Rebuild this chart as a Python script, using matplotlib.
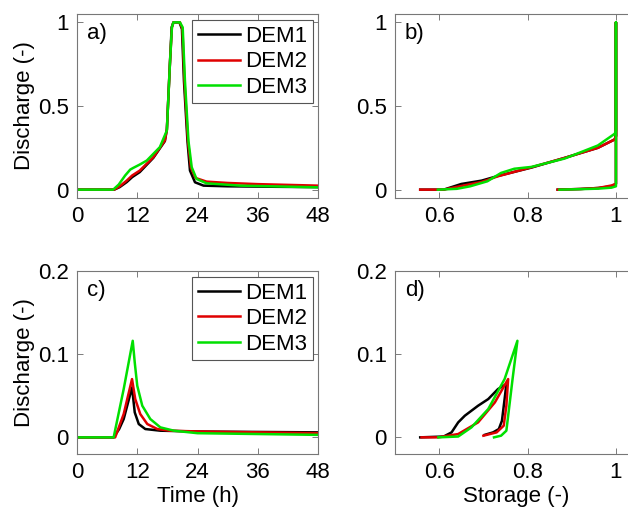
import numpy as np
import matplotlib
matplotlib.use('Agg')
import matplotlib.pyplot as plt

plt.rcParams['font.family'] = 'Liberation Sans'

# -----------------------------------------------------------------------------
# a) hydrographs, event 1 (time in h, normalised discharge)

t1_a = [0, 7.4, 8.5, 9.9, 11.0, 12.5, 15.2, 17.5, 17.9, 18.5, 18.85, 19.2, 20.4,
        20.9, 21.3, 22.0, 22.5, 23.5, 25.2, 30, 40, 48]
q1_a = [0, 0, 0.015, 0.045, 0.075, 0.105, 0.19, 0.29, 0.36, 0.75, 0.97, 1.0, 1.0,
        0.96, 0.65, 0.29, 0.114, 0.044, 0.024, 0.02, 0.017, 0.015]

t2_a = [0, 7.4, 8.5, 9.9, 11.0, 12.5, 15.2, 17.5, 17.9, 18.5, 18.9, 19.2, 20.5,
        21.0, 21.4, 22.1, 22.7, 23.6, 25.8, 30, 36, 48]
q2_a = [0, 0, 0.02, 0.054, 0.085, 0.114, 0.194, 0.294, 0.36, 0.75, 0.97, 1.0, 1.0,
        0.96, 0.65, 0.29, 0.13, 0.07, 0.048, 0.04, 0.033, 0.024]

t3_a = [0, 7.2, 8.3, 9.6, 10.6, 11.2, 12.5, 13.9, 16.5, 17.9, 18.5, 18.9, 19.2,
        20.5, 21.05, 21.5, 22.2, 22.85, 23.8, 25.8, 32.5, 48]
q3_a = [0, 0, 0.03, 0.085, 0.12, 0.13, 0.15, 0.174, 0.254, 0.354, 0.75, 0.97, 1.0,
        1.0, 0.97, 0.65, 0.29, 0.134, 0.064, 0.038, 0.024, 0.014]

# b) discharge vs storage, event 1
s1_b = [0.557, 0.61, 0.65, 0.696, 0.733, 0.809, 0.884, 0.959, 0.997, 1.0, 1.0,
        1.0, 0.99, 0.96, 0.92, 0.868]
q1_b = [0, 0, 0.034, 0.054, 0.082, 0.132, 0.19, 0.25, 0.3, 0.32, 1.0,
        0.035, 0.02, 0.01, 0.004, 0]

s2_b = [0.557, 0.61, 0.65, 0.696, 0.733, 0.809, 0.884, 0.959, 0.997, 1.0, 1.0,
        1.0, 0.99, 0.96, 0.92, 0.868]
q2_b = [0, 0, 0.022, 0.046, 0.08, 0.134, 0.19, 0.25, 0.3, 0.32, 1.0,
        0.035, 0.025, 0.01, 0.004, 0]

s3_b = [0.597, 0.64, 0.67, 0.709, 0.74, 0.77, 0.809, 0.884, 0.959, 0.997, 1.0,
        1.0, 1.0, 0.99, 0.96, 0.92, 0.872]
q3_b = [0, 0.005, 0.02, 0.05, 0.1, 0.125, 0.136, 0.186, 0.264, 0.334, 0.35,
        1.0, 0.02, 0.012, 0.006, 0.003, 0]

# c) hydrographs, event 2
t1_c = [0, 7.3, 8.4, 9.3, 10.96, 11.5, 12.3, 13.6, 16.6, 24, 48]
q1_c = [0, 0, 0.01, 0.022, 0.06, 0.03, 0.016, 0.01, 0.008, 0.007, 0.006]

t2_c = [0, 7.6, 9.3, 10.96, 11.6, 12.6, 14.0, 16.0, 18.5, 24.6, 48]
q2_c = [0, 0, 0.028, 0.07, 0.046, 0.028, 0.016, 0.01, 0.008, 0.007, 0.005]

t3_c = [0, 7.3, 9.3, 11.1, 11.5, 12.0, 13.0, 14.6, 16.6, 19.3, 24, 48]
q3_c = [0, 0, 0.058, 0.116, 0.09, 0.062, 0.038, 0.022, 0.012, 0.008, 0.005, 0.003]

# d) discharge vs storage, event 2
s1_d = [0.557, 0.61, 0.628, 0.643, 0.658, 0.688, 0.711, 0.733, 0.752, 0.748,
        0.742, 0.735, 0.722, 0.703]
q1_d = [0, 0.001, 0.006, 0.018, 0.026, 0.038, 0.046, 0.058, 0.064, 0.046,
        0.02, 0.01, 0.006, 0.003]

s2_d = [0.56, 0.598, 0.643, 0.688, 0.726, 0.756, 0.752, 0.746, 0.73, 0.70]
q2_d = [0, 0, 0.004, 0.018, 0.042, 0.07, 0.038, 0.014, 0.006, 0.002]

s3_d = [0.598, 0.643, 0.673, 0.711, 0.748, 0.777, 0.766, 0.757, 0.752, 0.74, 0.724]
q3_d = [0, 0.001, 0.012, 0.034, 0.07, 0.116, 0.07, 0.03, 0.008, 0.002, 0]

labels = ['DEM1', 'DEM2', 'DEM3']
colors = ['black', '#e00000', '#00e000']

# -----------------------------------------------------------------------------


def style_axes(ax, letter):
    """ MATLAB-like box with inward ticks on all sides """
    ax.tick_params(direction='in', top=True, right=True, length=4,
                   width=0.6, color='#666666', labelsize=16, pad=6)
    for sp in ax.spines.values():
        sp.set_color('#777777')
        sp.set_linewidth(0.8)
    ax.text(0.04, 0.95, letter, transform=ax.transAxes, va='top',
            ha='left', fontsize=16)


def add_legend(ax):
    leg = ax.legend(loc='upper right', bbox_to_anchor=(0.98, 0.965),
                    borderaxespad=0, fontsize=16, fancybox=False,
                    framealpha=1, edgecolor='#555555', handlelength=1.9,
                    handletextpad=0.25, labelspacing=0.2, borderpad=0.25)
    leg.get_frame().set_linewidth(0.8)


fig = plt.figure(figsize=(6.28, 5.13), dpi=100)

ax_a = fig.add_axes([0.1226, 0.614, 0.3838, 0.3587])
ax_b = fig.add_axes([0.629, 0.614, 0.387, 0.3587])
ax_c = fig.add_axes([0.1226, 0.115, 0.3838, 0.357])
ax_d = fig.add_axes([0.629, 0.115, 0.387, 0.357])

lw = 1.8
for t, q, lab, c in zip([t1_a, t2_a, t3_a], [q1_a, q2_a, q3_a], labels, colors):
    ax_a.plot(t, q, color=c, lw=lw, label=lab)
for s, q, c in zip([s1_b, s2_b, s3_b], [q1_b, q2_b, q3_b], colors):
    ax_b.plot(s, q, color=c, lw=lw)
for t, q, lab, c in zip([t1_c, t2_c, t3_c], [q1_c, q2_c, q3_c], labels, colors):
    ax_c.plot(t, q, color=c, lw=lw, label=lab)
for s, q, c in zip([s1_d, s2_d, s3_d], [q1_d, q2_d, q3_d], colors):
    ax_d.plot(s, q, color=c, lw=lw)

for ax in [ax_a, ax_c]:
    ax.set_xlim(0, 48)
    ax.set_xticks([0, 12, 24, 36, 48])
    ax.set_ylabel('Discharge (-)', fontsize=16, labelpad=2)
for ax in [ax_b, ax_d]:
    ax.set_xlim(0.5, 1.05)
    ax.set_xticks([0.6, 0.8, 1.0])
    ax.set_xticklabels(['0.6', '0.8', '1'])
for ax in [ax_a, ax_b]:
    ax.set_ylim(-0.05, 1.05)
    ax.set_yticks([0, 0.5, 1])
    ax.set_yticklabels(['0', '0.5', '1'])
for ax in [ax_c, ax_d]:
    ax.set_ylim(-0.02, 0.2)
    ax.set_yticks([0, 0.1, 0.2])
    ax.set_yticklabels(['0', '0.1', '0.2'])

ax_c.set_xlabel('Time (h)', fontsize=16, labelpad=2)
ax_d.set_xlabel('Storage (-)', fontsize=16, labelpad=2)

style_axes(ax_a, 'a)')
style_axes(ax_b, 'b)')
style_axes(ax_c, 'c)')
style_axes(ax_d, 'd)')
add_legend(ax_a)
add_legend(ax_c)

plt.savefig('out.png', dpi=100)
